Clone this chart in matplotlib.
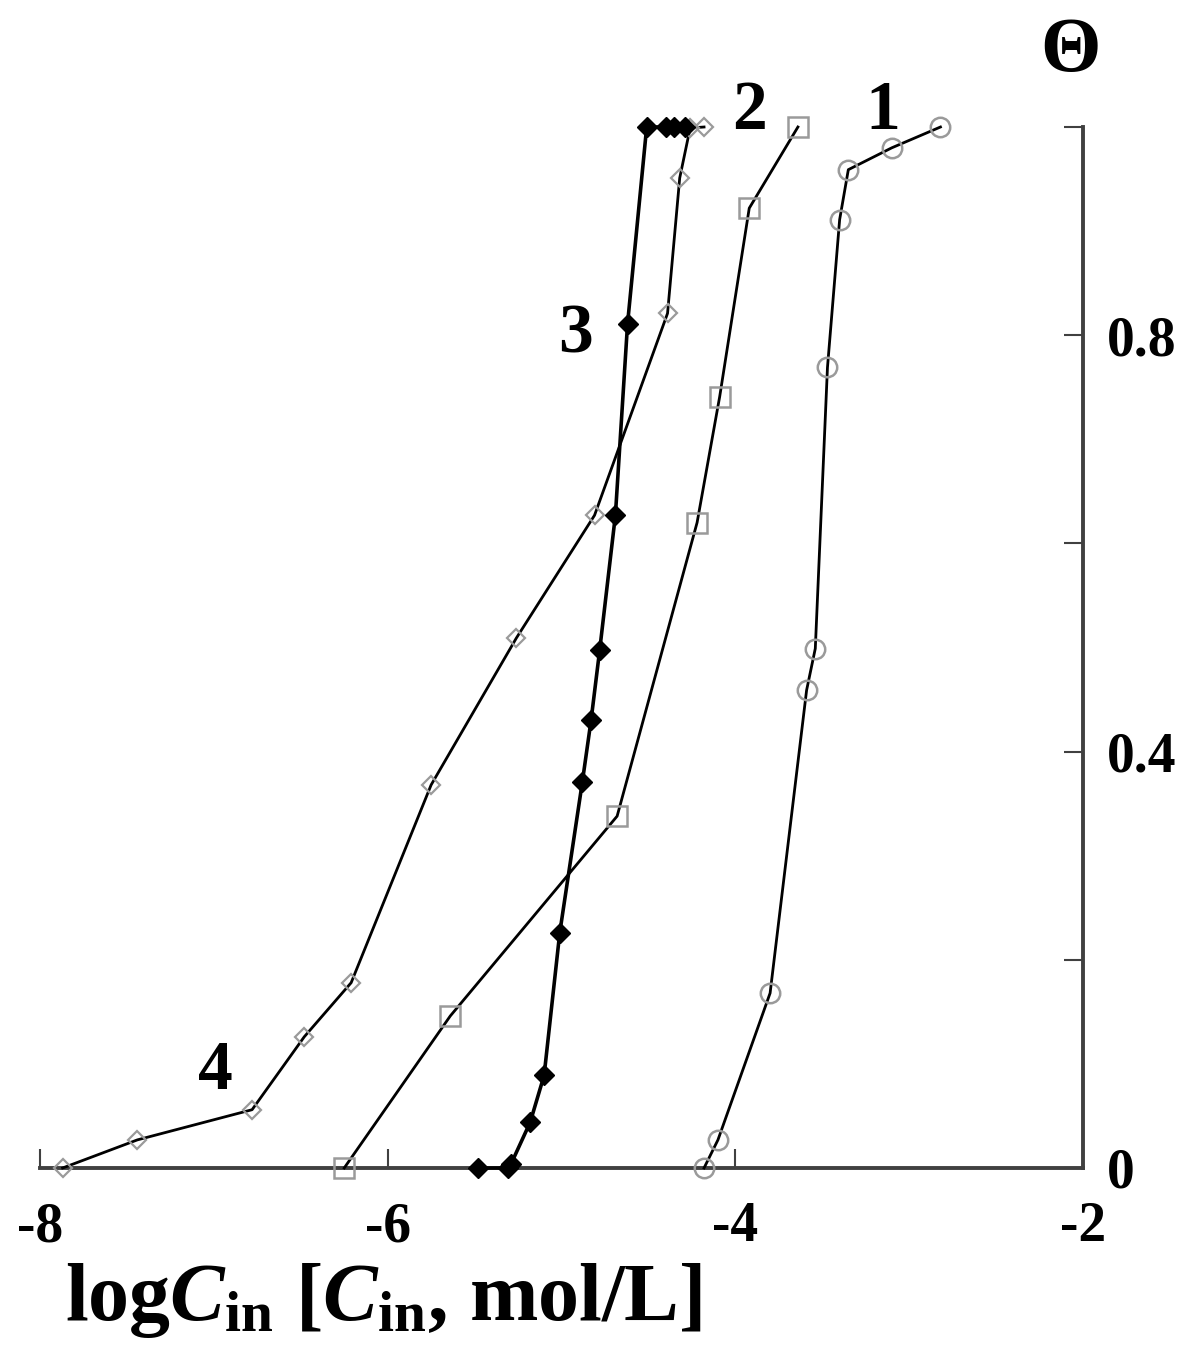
import matplotlib
matplotlib.use("Agg")
import matplotlib.pyplot as plt

# ---- data ----
s1_x = [-4.18, -4.10, -3.80, -3.59, -3.54, -3.47, -3.40, -3.35, -3.10, -2.82]
s1_y = [0.0, 0.027, 0.168, 0.459, 0.499, 0.769, 0.911, 0.959, 0.980, 1.0]

s2_x = [-6.25, -5.64, -4.68, -4.22, -4.09, -3.92, -3.64]
s2_y = [0.0, 0.146, 0.338, 0.620, 0.741, 0.922, 1.0]

s3_x = [-5.48, -5.31, -5.29, -5.18, -5.10, -5.01, -4.88, -4.83, -4.78, -4.69, -4.62, -4.51, -4.40, -4.35, -4.29]
s3_y = [0.0, 0.0, 0.004, 0.044, 0.089, 0.226, 0.371, 0.430, 0.498, 0.627, 0.811, 1.0, 1.0, 1.0, 1.0]

s4_x = [-7.87, -7.44, -6.78, -6.48, -6.21, -5.75, -5.26, -4.81, -4.39, -4.32, -4.26, -4.18]
s4_y = [0.0, 0.027, 0.056, 0.126, 0.178, 0.368, 0.509, 0.627, 0.821, 0.951, 0.999, 1.0]

curve_labels = ["1", "2", "3", "4"]
x_ticks = [-8, -6, -4, -2]
x_ticklabels = ["-8", "-6", "-4", "-2"]
y_ticks = [0, 0.2, 0.4, 0.6, 0.8, 1.0]
y_ticklabels = ["0", "", "0.4", "", "0.8", ""]

plt.rcParams['font.family'] = ['Liberation Serif', 'DejaVu Serif']
plt.rcParams['font.weight'] = 'bold'
plt.rcParams['mathtext.fontset'] = 'custom'
plt.rcParams['mathtext.rm'] = 'Liberation Serif:bold'
plt.rcParams['mathtext.it'] = 'Liberation Serif:bold:italic'
plt.rcParams['mathtext.bf'] = 'Liberation Serif:bold'

W, H = 1203, 1349
fig = plt.figure(figsize=(W / 100, H / 100), dpi=100)
ax = fig.add_axes([40 / W, 1 - 1168 / H, (1083 - 40) / W, (1168 - 127) / H])

gray = '#9a9a9a'
ax.plot(s1_x, s1_y, color='black', lw=2.0, marker='o', ms=14, mfc='none',
        mec=gray, mew=1.8, clip_on=False, zorder=3)
ax.plot(s2_x, s2_y, color='black', lw=2.0, marker='s', ms=15, mfc='none',
        mec=gray, mew=1.8, clip_on=False, zorder=3)
ax.plot(s4_x, s4_y, color='black', lw=2.0, marker='D', ms=9.5, mfc='none',
        mec=gray, mew=1.6, clip_on=False, zorder=3)
ax.plot(s3_x, s3_y, color='black', lw=2.6, marker='D', ms=10, mfc='black',
        mec='black', mew=1.0, clip_on=False, zorder=4)

ax.set_xlim(-8, -2)
ax.set_ylim(0, 1.0)

for side in ['top', 'left']:
    ax.spines[side].set_visible(False)
for side in ['bottom', 'right']:
    ax.spines[side].set_linewidth(2.8)
    ax.spines[side].set_color('#404040')

ax.yaxis.tick_right()
ax.set_xticks(x_ticks)
ax.set_xticklabels(x_ticklabels)
ax.set_yticks(y_ticks)
ax.set_yticklabels(y_ticklabels)
ax.tick_params(axis='x', direction='in', length=14, width=1.5, colors='#404040',
               labelcolor='black', labelsize=40, pad=24)
ax.tick_params(axis='y', direction='in', length=14, width=1.5, colors='#404040',
               labelcolor='black', labelsize=40, pad=17)
for lab in ax.get_xticklabels() + ax.get_yticklabels():
    lab.set_fontweight('bold')

# curve numbers
ax.text(-3.15, 1.014, curve_labels[0], fontsize=50, fontweight='bold', ha='center', va='center')
ax.text(-3.92, 1.014, curve_labels[1], fontsize=50, fontweight='bold', ha='center', va='center')
ax.text(-4.92, 0.80, curve_labels[2], fontsize=50, fontweight='bold', ha='center', va='center')
ax.text(-6.99, 0.092, curve_labels[3], fontsize=50, fontweight='bold', ha='center', va='center')

fig.text(1070 / W, 1 - 53 / H, 'Θ', fontsize=56, fontweight='bold', ha='center', va='center')
fig.text(65 / W, 1 - 1301 / H,
         r'$\mathrm{log}C_{\mathrm{in}}\ [C_{\mathrm{in}}\mathrm{,}\ \mathrm{mol/L}]$',
         fontsize=59, ha='left', va='center')

fig.savefig('out.png', dpi=100, facecolor='white')
